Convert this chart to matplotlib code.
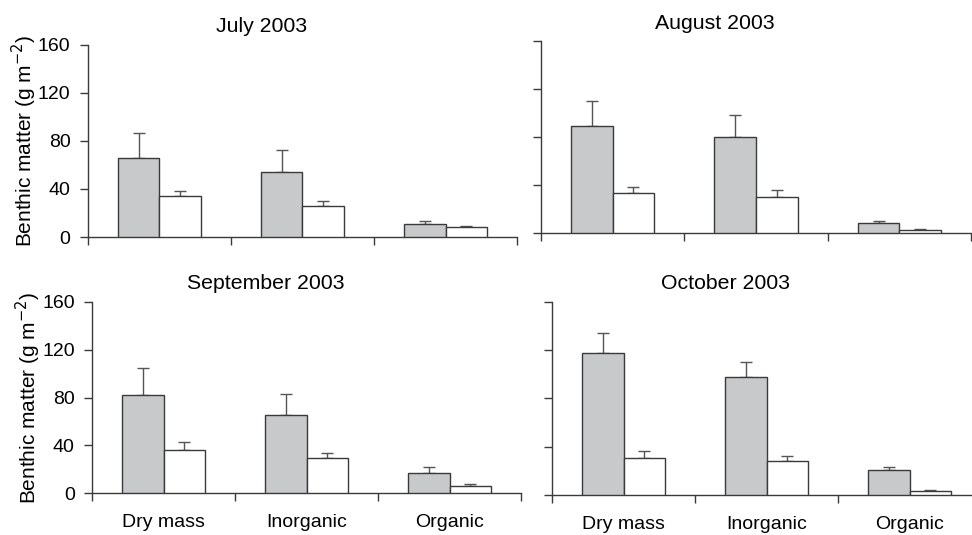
import numpy as np
import matplotlib.pyplot as plt

plt.rcParams['font.family'] = ['Liberation Sans', 'DejaVu Sans']
plt.rcParams['font.size'] = 14

categories = ['Dry mass', 'Inorganic', 'Organic']
months = ['July 2003', 'August 2003', 'September 2003', 'October 2003']

# means and standard errors, filled (grey) vs open (white) bars
grey_mean = [[66, 54, 11], [89.5, 80.5, 8.5], [82, 65, 16.7], [118, 98, 21]]
grey_se = [[21, 18.5, 2.3], [20.5, 18, 1.2], [22.5, 18, 5.6], [15.8, 12.4, 2.2]]
white_mean = [[34.5, 25.5, 8.5], [33.5, 30, 2.8], [36, 29.2, 6.4], [31, 28, 3.6]]
white_se = [[4, 4.5, 0.3], [5.3, 5.5, 0.2], [6.6, 4.2, 1.1], [5.6, 4.4, 0.8]]

# axes rectangles in figure fractions
positions = [
    [0.0905, 0.557, 0.4414, 0.359],
    [0.5566, 0.5645, 0.4424, 0.3583],
    [0.0947, 0.078, 0.4414, 0.358],
    [0.5679, 0.0748, 0.4414, 0.361],
]

fig = plt.figure(figsize=(9.72, 5.35), dpi=100)
edge = '#3a3a3a'
width = 0.29
x = np.arange(len(categories)) + 0.5

for k, pos in enumerate(positions):
    ax = fig.add_axes(pos)
    for mean, se, fc, xs in [(grey_mean[k], grey_se[k], '#c8c9cb', x - width / 2),
                             (white_mean[k], white_se[k], 'white', x + width / 2)]:
        ax.bar(xs, mean, width, color=fc, edgecolor=edge, linewidth=1.0, zorder=3)
        ax.errorbar(xs, mean, yerr=[np.zeros(len(se)), se], fmt='none',
                    ecolor='#555555', elinewidth=1.0, capsize=4.5, capthick=1.0, zorder=2)
    ax.set_xlim(0, 3)
    ax.set_ylim(0, 160)
    ax.set_yticks([0, 40, 80, 120, 160])
    ax.set_xticks([0, 1, 2, 3])
    ax.set_xticklabels([])
    ax.tick_params(axis='x', direction='out', length=6, width=1, color=edge)
    ax.tick_params(axis='y', direction='out', length=6, width=1, color=edge, pad=6.5)
    if k >= 2:
        ax.set_xticks(x, minor=True)
        ax.set_xticklabels(categories, minor=True, fontsize=14)
        ax.tick_params(axis='x', which='minor', length=0, pad=15)
    if k % 2 == 0:
        ax.set_ylabel('Benthic matter (g m$^{-2}$)', fontsize=15, labelpad=-1)
    else:
        ax.set_yticklabels([])
    for s in ['top', 'right']:
        ax.spines[s].set_visible(False)
    for s in ['left', 'bottom']:
        ax.spines[s].set_color(edge)
        ax.spines[s].set_linewidth(1)
    ax.set_title(months[k], x=0.405, pad=9, fontsize=15.3)

fig.savefig('out.png', dpi=100)
